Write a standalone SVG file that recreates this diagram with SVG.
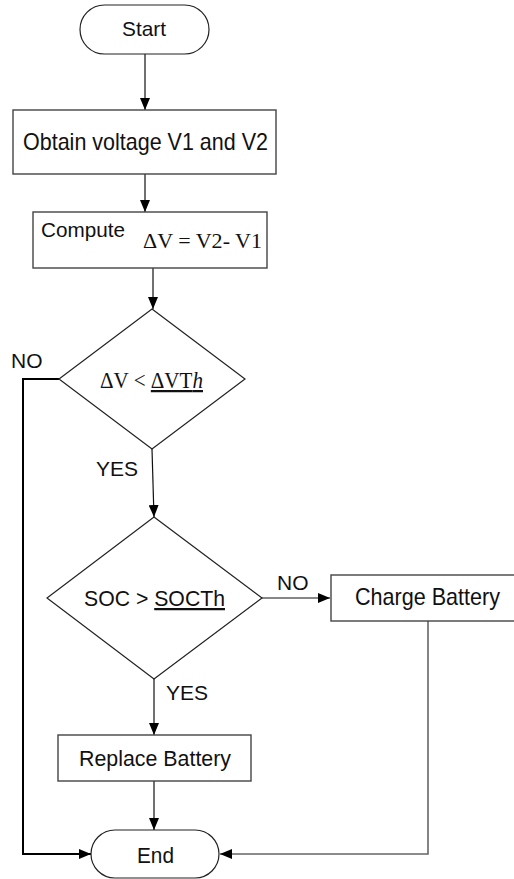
<svg xmlns="http://www.w3.org/2000/svg" width="514" height="879" viewBox="0 0 514 879">
<style>
.shape{fill:#fff;stroke:#222;stroke-width:1.2}
.box{fill:#fff;stroke:#444;stroke-width:1.4}
.t{font-family:"Liberation Sans",Arial,sans-serif;font-size:21px;fill:#111}
.big{font-size:24px}
.mid{font-size:22.5px}
.m{font-family:"Liberation Serif","Times New Roman",serif;font-size:21px;fill:#111}
.c{fill:none;stroke:#111;stroke-width:1.2}
.u{text-decoration:underline}
</style>
<defs>
<marker id="ah" markerWidth="12" markerHeight="10" refX="12" refY="5" orient="auto" markerUnits="userSpaceOnUse">
<path d="M0,0 L12,5 L0,10 Z" fill="#000"/>
</marker>
</defs>
<g id="connectors">
<path class="c" d="M145,54 V110" marker-end="url(#ah)"/>
<path class="c" d="M145,174 V212" marker-end="url(#ah)"/>
<path class="c" d="M153,268 V309" marker-end="url(#ah)"/>
<path class="c" d="M152,449 L154,517" marker-end="url(#ah)"/>
<path class="c" d="M262,598 H330" marker-end="url(#ah)"/>
<path class="c" d="M154,679 V735" marker-end="url(#ah)"/>
<path class="c" d="M154,781 V830" marker-end="url(#ah)"/>
<path class="c" style="stroke:#000;stroke-width:2" d="M59,379 H23 V854 H91" marker-end="url(#ah)"/>
<path class="c" style="stroke:#666;stroke-width:1.6" d="M428,621 V854 H220" marker-end="url(#ah)"/>
<text class="t" x="11" y="368">NO</text>
<text class="t" x="96" y="476">YES</text>
<text class="t" x="277" y="590">NO</text>
<text class="t" x="166" y="700">YES</text>
</g>
<g id="start">
<rect class="shape" x="80" y="5" width="129" height="49" rx="24.5"/>
<text class="t" x="122" y="36" textLength="44" lengthAdjust="spacingAndGlyphs">Start</text>
</g>
<g id="obtain">
<rect class="box" x="13" y="110" width="263" height="64"/>
<text class="t big" x="23" y="150" textLength="245" lengthAdjust="spacingAndGlyphs">Obtain voltage V1 and V2</text>
</g>
<g id="compute">
<rect class="box" x="33" y="212" width="234" height="56"/>
<text class="t" x="41" y="237" textLength="84" lengthAdjust="spacingAndGlyphs">Compute</text>
<text class="m" x="143" y="248" textLength="119" lengthAdjust="spacingAndGlyphs">ΔV = V2- V1</text>
</g>
<g id="decision1">
<polygon class="shape" points="152,309 245,379 152,449 59,379"/>
<text class="m" style="font-size:22.5px" x="100" y="388" textLength="103" lengthAdjust="spacingAndGlyphs">ΔV &lt; <tspan class="u">ΔVT<tspan font-style="italic">h</tspan></tspan></text>
</g>
<g id="decision2">
<polygon class="shape" points="154,517 262,598 154,679 47,598"/>
<text class="t mid" x="84" y="606" textLength="141" lengthAdjust="spacingAndGlyphs">SOC &gt; <tspan class="u">SOCTh</tspan></text>
</g>
<g id="charge">
<rect class="box" x="331" y="575" width="192" height="46"/>
<text class="t big" x="355" y="605" textLength="145" lengthAdjust="spacingAndGlyphs">Charge Battery</text>
</g>
<g id="replace">
<rect class="box" x="58" y="735" width="193" height="46"/>
<text class="t mid" x="79" y="766" textLength="152" lengthAdjust="spacingAndGlyphs">Replace Battery</text>
</g>
<g id="end">
<rect class="shape" x="91" y="830" width="128" height="48" rx="24"/>
<text class="t mid" x="137" y="863" textLength="37" lengthAdjust="spacingAndGlyphs">End</text>
</g>
</svg>
